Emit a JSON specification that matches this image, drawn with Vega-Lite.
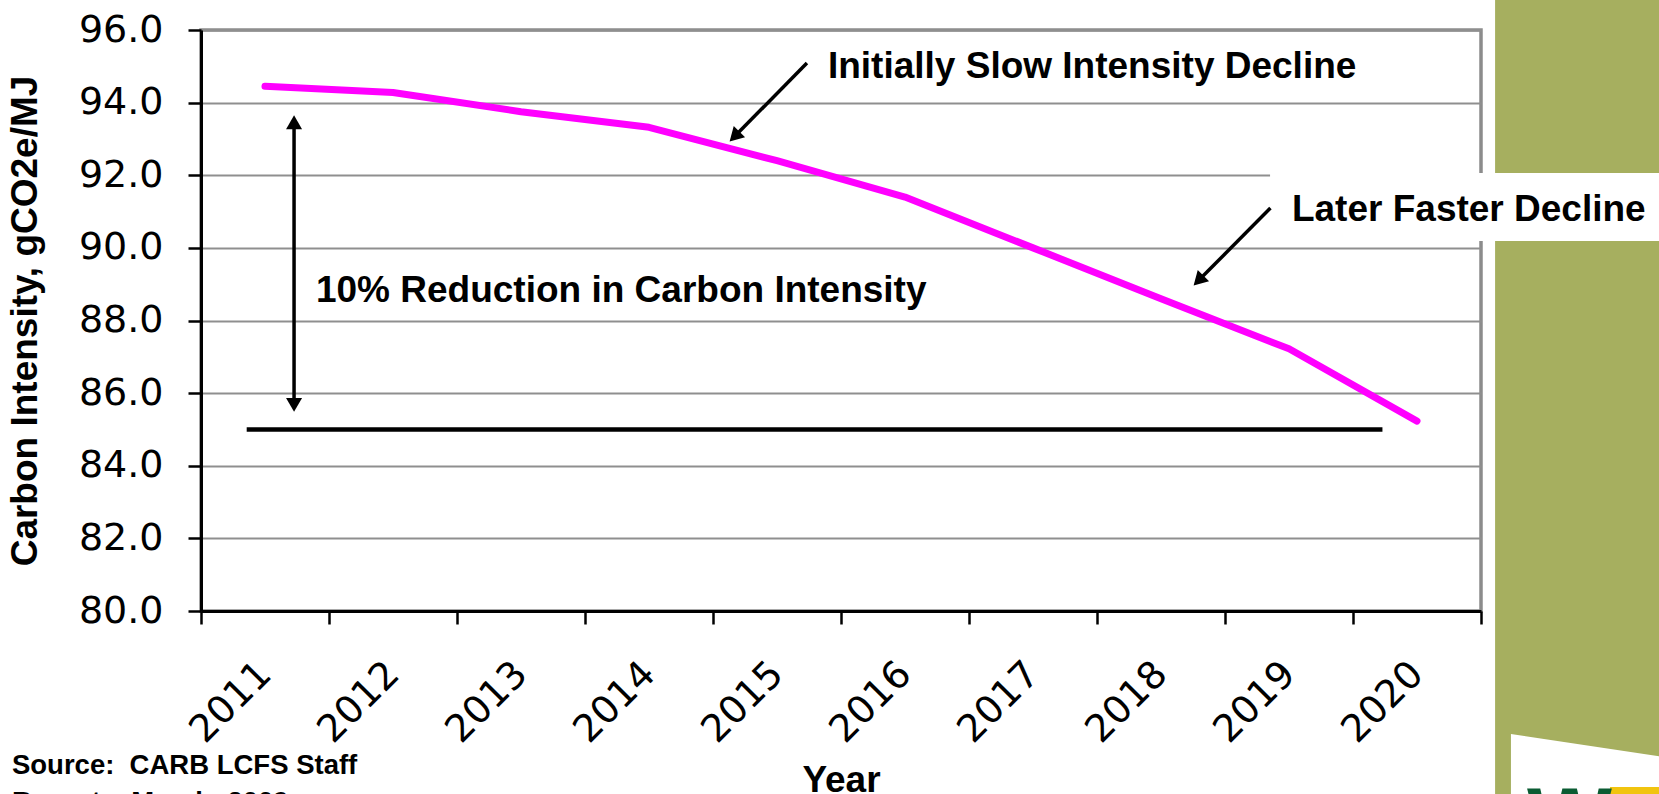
{
  "$schema": "https://vega.github.io/schema/vega-lite/v6.json",
  "width": 1280,
  "height": 581,
  "autosize": {"type": "none"},
  "padding": {"left": 201, "top": 30, "right": 178, "bottom": 183},
  "background": "white",
  "config": {
    "view": {"stroke": "#8c8c8c", "strokeWidth": 3.5},
    "text": {"font": "Liberation Sans"}
  },
  "datasets": {
    "ci": [
      {"Year": "2011", "v": 94.45},
      {"Year": "2012", "v": 94.28},
      {"Year": "2013", "v": 93.75},
      {"Year": "2014", "v": 93.32},
      {"Year": "2015", "v": 92.4},
      {"Year": "2016", "v": 91.4},
      {"Year": "2017", "v": 90.0},
      {"Year": "2018", "v": 88.6},
      {"Year": "2019", "v": 87.22},
      {"Year": "2020", "v": 85.23}
    ],
    "green": [{"yr": 2020.61, "yr2": 2023, "v": 97.5, "v2": 73}],
    "whitebox": [{"yr": 2018.852, "yr2": 2023, "v": 92.06, "v2": 90.19}],
    "logo": [
      {"yr": 2020.734, "v": 76.61, "v2": 73},
      {"yr": 2022.21, "v": 75.83, "v2": 73}
    ],
    "logoYellow": [{"yr": 2021.508, "yr2": 2023, "v": 75.15, "v2": 73}],
    "logoW": [{"yr": 2020.859, "v": 73.38, "text": "W"}],
    "target": [{"yr": 2010.857, "yr2": 2019.73, "v": 85.0}],
    "shafts": [
      {"yr": 2011.227, "yr2": 2011.227, "v": 93.46, "v2": 85.675},
      {"yr": 2015.234, "yr2": 2014.668, "v": 95.091, "v2": 93.066},
      {"yr": 2018.855, "yr2": 2018.293, "v": 91.096, "v2": 89.099}
    ],
    "headUp": [{"yr": 2011.227, "v": 93.46}],
    "headDown": [{"yr": 2011.227, "v": 85.675}],
    "headDiag": [
      {"yr": 2014.668, "v": 93.066},
      {"yr": 2018.293, "v": 89.099}
    ],
    "notes": [
      {"yr": 2011.398, "v": 88.5, "text": "10% Reduction in Carbon Intensity"},
      {"yr": 2015.398, "v": 94.68, "text": "Initially Slow Intensity Decline"},
      {"yr": 2019.023, "v": 90.74, "text": "Later Faster Decline"}
    ],
    "source": [{"yr": 2009.023, "v": 75.5, "text": "Source:\u00a0 CARB LCFS Staff\nReport – March, 2009"}]
  },
  "encoding": {
    "y": {
      "field": "v",
      "type": "quantitative",
      "scale": {"domain": [80, 96], "nice": false, "zero": false},
      "axis": {
        "title": "Carbon Intensity, gCO2e/MJ",
        "values": [80, 82, 84, 86, 88, 90, 92, 94, 96],
        "format": ".1f",
        "grid": true,
        "gridColor": "#8f8f8f",
        "gridWidth": 2,
        "domainColor": "black",
        "domainWidth": 3,
        "tickColor": "black",
        "tickWidth": 2.5,
        "tickSize": 13,
        "labelFont": "DejaVu Sans",
        "labelFontSize": 38,
        "labelColor": "black",
        "labelPadding": 25,
        "labelOverlap": false,
        "titleFont": "Liberation Sans",
        "titleFontSize": 37,
        "titleFontWeight": "bold",
        "titleColor": "black",
        "titlePadding": 34
      }
    }
  },
  "layer": [
    {
      "data": {"name": "ci"},
      "mark": {"type": "line", "color": "#ff00ff", "strokeWidth": 7, "strokeCap": "round", "strokeJoin": "round"},
      "encoding": {
        "x": {
          "field": "Year",
          "type": "ordinal",
          "bandPosition": 0.5,
          "scale": {"type": "band", "paddingInner": 0, "paddingOuter": 0},
          "axis": {
            "title": "Year",
            "tickBand": "extent",
            "labelAngle": -45,
            "labelAlign": "right",
            "labelBaseline": "middle",
            "labelFont": "DejaVu Sans",
            "labelFontSize": 38,
            "labelColor": "black",
            "labelPadding": 44,
            "labelOverlap": false,
            "tickColor": "black",
            "tickSize": 13,
            "tickWidth": 2.5,
            "domainColor": "black",
            "domainWidth": 3,
            "grid": false,
            "titleFont": "Liberation Sans",
            "titleFontSize": 37,
            "titleFontWeight": "bold",
            "titleColor": "black",
            "titlePadding": 13
          }
        }
      }
    },
    {
      "layer": [
        {
          "data": {"name": "green"},
          "mark": {"type": "rect", "color": "#a6af5f"},
          "encoding": {
            "x": {"field": "yr", "type": "quantitative", "scale": {"domain": [2010.5, 2020.5], "nice": false, "zero": false}, "axis": null},
            "x2": {"field": "yr2"},
            "y2": {"field": "v2"}
          }
        },
        {
          "data": {"name": "whitebox"},
          "mark": {"type": "rect", "color": "white"},
          "encoding": {
            "x": {"field": "yr", "type": "quantitative", "scale": {"domain": [2010.5, 2020.5], "nice": false, "zero": false}, "axis": null},
            "x2": {"field": "yr2"},
            "y2": {"field": "v2"}
          }
        },
        {
          "data": {"name": "logo"},
          "mark": {"type": "area", "color": "white", "opacity": 1},
          "encoding": {
            "x": {"field": "yr", "type": "quantitative", "scale": {"domain": [2010.5, 2020.5], "nice": false, "zero": false}, "axis": null},
            "y2": {"field": "v2"}
          }
        },
        {
          "data": {"name": "logoYellow"},
          "mark": {"type": "rect", "color": "#f1c40f"},
          "encoding": {
            "x": {"field": "yr", "type": "quantitative", "scale": {"domain": [2010.5, 2020.5], "nice": false, "zero": false}, "axis": null},
            "x2": {"field": "yr2"},
            "y2": {"field": "v2"}
          }
        },
        {
          "data": {"name": "logoW"},
          "mark": {"type": "text", "align": "left", "baseline": "alphabetic", "font": "Liberation Sans", "fontWeight": "bold", "fontSize": 90, "color": "#0b5c33"},
          "encoding": {
            "x": {"field": "yr", "type": "quantitative", "scale": {"domain": [2010.5, 2020.5], "nice": false, "zero": false}, "axis": null},
            "text": {"field": "text"}
          }
        },
        {
          "data": {"name": "target"},
          "mark": {"type": "rule", "color": "black", "strokeWidth": 4.5},
          "encoding": {
            "x": {"field": "yr", "type": "quantitative", "scale": {"domain": [2010.5, 2020.5], "nice": false, "zero": false}, "axis": null},
            "x2": {"field": "yr2"}
          }
        },
        {
          "data": {"name": "shafts"},
          "mark": {"type": "rule", "color": "black", "strokeWidth": 3.5},
          "encoding": {
            "x": {"field": "yr", "type": "quantitative", "scale": {"domain": [2010.5, 2020.5], "nice": false, "zero": false}, "axis": null},
            "x2": {"field": "yr2"},
            "y2": {"field": "v2"}
          }
        },
        {
          "data": {"name": "headUp"},
          "mark": {"type": "point", "shape": "triangle-up", "filled": true, "size": 256, "color": "black", "opacity": 1, "angle": 0},
          "encoding": {
            "x": {"field": "yr", "type": "quantitative", "scale": {"domain": [2010.5, 2020.5], "nice": false, "zero": false}, "axis": null}
          }
        },
        {
          "data": {"name": "headDown"},
          "mark": {"type": "point", "shape": "triangle-up", "filled": true, "size": 256, "color": "black", "opacity": 1, "angle": 180},
          "encoding": {
            "x": {"field": "yr", "type": "quantitative", "scale": {"domain": [2010.5, 2020.5], "nice": false, "zero": false}, "axis": null}
          }
        },
        {
          "data": {"name": "headDiag"},
          "mark": {"type": "point", "shape": "triangle-up", "filled": true, "size": 256, "color": "black", "opacity": 1, "angle": 225},
          "encoding": {
            "x": {"field": "yr", "type": "quantitative", "scale": {"domain": [2010.5, 2020.5], "nice": false, "zero": false}, "axis": null}
          }
        },
        {
          "data": {"name": "notes"},
          "mark": {"type": "text", "align": "left", "baseline": "alphabetic", "font": "Liberation Sans", "fontWeight": "bold", "fontSize": 37, "color": "black"},
          "encoding": {
            "x": {"field": "yr", "type": "quantitative", "scale": {"domain": [2010.5, 2020.5], "nice": false, "zero": false}, "axis": null},
            "text": {"field": "text"}
          }
        },
        {
          "data": {"name": "source"},
          "mark": {"type": "text", "align": "left", "baseline": "alphabetic", "font": "Liberation Sans", "fontWeight": "bold", "fontSize": 27.5, "lineBreak": "\n", "lineHeight": 37, "color": "black"},
          "encoding": {
            "x": {"field": "yr", "type": "quantitative", "scale": {"domain": [2010.5, 2020.5], "nice": false, "zero": false}, "axis": null},
            "text": {"field": "text"}
          }
        }
      ]
    }
  ],
  "resolve": {"scale": {"x": "independent"}, "axis": {"x": "independent"}}
}
